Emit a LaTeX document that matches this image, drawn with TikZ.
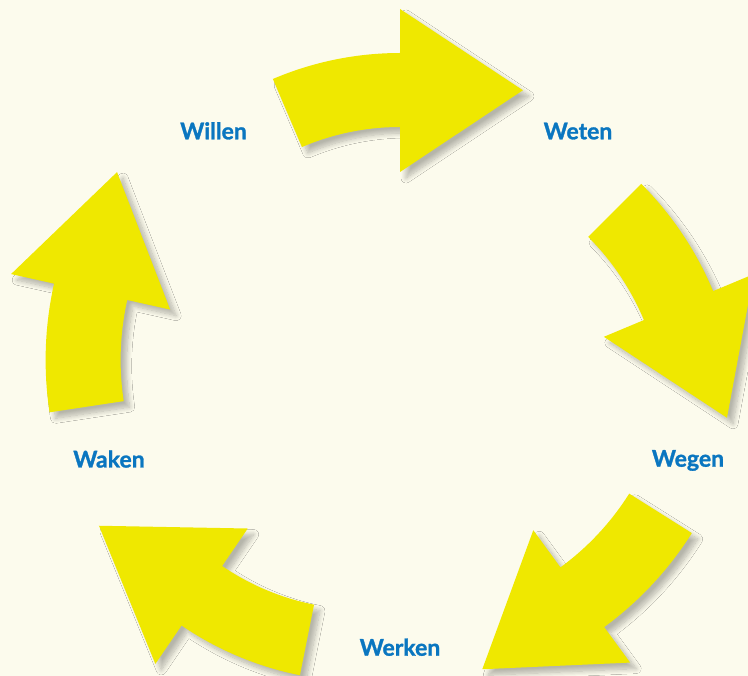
\documentclass[tikz,border=0pt]{standalone}
\usepackage{fontspec}
\newfontfamily\labelfont{Lato}[BoldFeatures={FakeBold=1.2}]
\usetikzlibrary{calc,shadows.blur}
\definecolor{bgcream}{RGB}{252,251,237}
\definecolor{arrowyellow}{RGB}{239,232,0}
\definecolor{labelblue}{RGB}{10,118,192}
\tikzset{
  cyclearrow/.style={fill=arrowyellow, draw=none,
    blur shadow={shadow xshift=6pt, shadow yshift=-6pt, shadow blur radius=5pt,
                 shadow blur steps=10, shadow opacity=28}},
  cyclelabel/.style={anchor=base, text=labelblue, inner sep=0pt,
    font=\labelfont\bfseries\fontsize{23}{27}\selectfont}
}
\begin{document}
\begin{tikzpicture}[x=1pt,y=-1pt]
\useasboundingbox (0,0) rectangle (748,676);
\fill[bgcream] (0,0) rectangle (748,676);
\clip (0,0) rectangle (748,676);
% top arrow
\begin{scope}[shift={(400,377)}]
\fill[cyclearrow] (-113.1:324) arc[start angle=-113.1, end angle=-90, radius=324]
  -- (-90:368) -- (-66.8:312) -- (-90:205) -- (-90:250)
  arc[start angle=-90, end angle=-113.1, radius=250] -- cycle;
\end{scope}
% right arrow
\begin{scope}[shift={(405,420)}]
\fill[cyclearrow] (-45:334) arc[start angle=-45, end angle=-22.7, radius=334]
  -- (-22.7:378) -- (-0.4:322) -- (-22.7:215.6) -- (-22.7:259)
  arc[start angle=-22.7, end angle=-45, radius=259] -- cycle;
\end{scope}
% bottom-right arrow
\begin{scope}[shift={(401.6,350.3)}]
\fill[cyclearrow] (32.2:343) arc[start angle=32.2, end angle=53.8, radius=343]
  -- (53.8:387) -- (75.8:329) -- (53.8:223) -- (53.8:269)
  arc[start angle=53.8, end angle=32.2, radius=269] -- cycle;
\end{scope}
% bottom-left arrow
\begin{scope}[shift={(363,359.5)}]
\fill[cyclearrow] (101.3:322) arc[start angle=101.3, end angle=124.3, radius=322]
  -- (124.3:368.5) -- (147.8:312) -- (124.3:204.6) -- (124.3:250)
  arc[start angle=124.3, end angle=101.3, radius=250] -- cycle;
\end{scope}
% left arrow
\begin{scope}[shift={(395.6,360)}]
\fill[cyclearrow] (171.4:350) arc[start angle=171.4, end angle=192.6, radius=350]
  -- (192.6:394) -- (214:336) -- (192.6:231) -- (192.6:275)
  arc[start angle=192.6, end angle=171.4, radius=275] -- cycle;
\end{scope}
% labels
\node[cyclelabel] (willen) at (213.5,139.3) {Willen};
\node[cyclelabel] (weten) at (578,139.3) {Weten};
\node[cyclelabel] (wegen) at (688,466.7) {Wegen};
\node[cyclelabel] (werken) at (400,655.7) {Werken};
\node[cyclelabel] (waken) at (109,467.5) {Waken};
\end{tikzpicture}
\end{document}
